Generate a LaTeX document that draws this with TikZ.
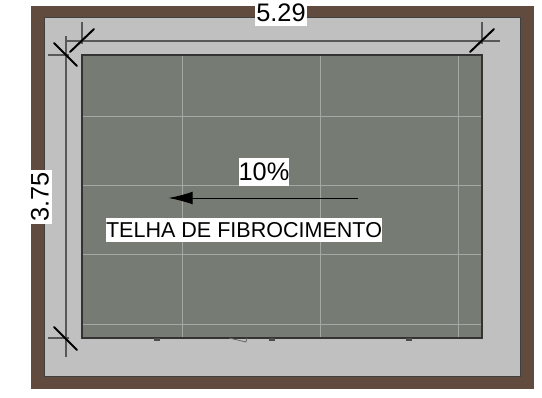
\documentclass[tikz,border=0pt]{standalone}
\usepackage{fontspec}
\setmainfont{Liberation Sans}
\usetikzlibrary{arrows.meta}
\definecolor{wallbrown}{HTML}{614B3E}
\definecolor{slabgray}{HTML}{C0C0C0}
\definecolor{roofgray}{HTML}{767B74}
\definecolor{gridgray}{HTML}{A4A7A2}
\definecolor{dimgray}{HTML}{585858}
\tikzset{
  gridline/.style={draw=gridgray,line width=0.75pt},
  dimline/.style={draw=dimgray,line width=0.8pt},
  ticktick/.style={draw=black,line width=1.5pt,line cap=round},
  whitelabel/.style={fill=white,text=black,inner sep=0pt,align=center},
}
\begin{document}
\begin{tikzpicture}[x=0.75pt,y=-0.75pt]
  \useasboundingbox (0,0) rectangle (542,397);
  % wall, slab and roof
  \fill[wallbrown] (31,6) rectangle (534,389);
  \draw[fill=slabgray,draw=black!75,line width=0.75pt] (44,17) rectangle (520,376);
  \fill[roofgray] (82,55) rectangle (482,338);
  \foreach \gx in {182,320,458}
    \draw[gridline] (\gx,55) -- (\gx,338);
  \foreach \gy in {116,185,254,324}
    \draw[gridline] (82,\gy) -- (482,\gy);
  \draw[black!80,line width=0.9pt] (82,55) rectangle (482,338);
  % bits showing under the roof edge
  \foreach \mx in {157,272,409}
    \fill[black!70] (\mx-3,338) rectangle (\mx+3,340.5);
  \draw[black!60,line width=0.6pt] (229,338) -- (246,342) -- (247,338);
  % dimensions
  \coordinate (topa) at (65,41);
  \coordinate (topb) at (500,41);
  \coordinate (lefta) at (66,36);
  \coordinate (leftb) at (66,357);
  \coordinate (exta) at (82,22);
  \coordinate (extaend) at (82,44);
  \coordinate (extb) at (482,22);
  \coordinate (extbend) at (482,44);
  \coordinate (extc) at (48,55);
  \coordinate (extcend) at (69,55);
  \coordinate (extd) at (48,338);
  \coordinate (extdend) at (69,338);
  \draw[dimline] (topa) to (topb);
  \draw[dimline] (lefta) to (leftb);
  \draw[dimline] (exta) to (extaend);
  \draw[dimline] (extb) to (extbend);
  \draw[dimline] (extc) to (extcend);
  \draw[dimline] (extd) to (extdend);
  \draw[ticktick] (70,52) -- (94,29);
  \draw[ticktick] (470,52) -- (494,29);
  \draw[ticktick] (54,43) -- (77,66);
  \draw[ticktick] (54,327) -- (77,350);
  % labels
  \node[whitelabel,minimum width=39pt,minimum height=19.5pt,font=\fontsize{19}{19}\selectfont] at (281,13) (width) {5.29};
  \node[whitelabel,rotate=90,font=\fontsize{19}{19}\selectfont,minimum width=40pt,minimum height=18pt] at (40,197) (height) {3.75};
  \node[whitelabel,minimum width=37.5pt,minimum height=21pt,font=\fontsize{19}{19}\selectfont] at (264,172) (slope) {10\%};
  \node[whitelabel,minimum width=207pt,minimum height=18pt,font=\fontsize{16.15}{16}\selectfont] at (244,230) (roofname) {TELHA DE FIBROCIMENTO};
  % slope arrow
  \coordinate (slopea) at (358,198);
  \coordinate (slopeb) at (168.5,198);
  \draw[-{Latex[length=18pt,width=9.5pt]},black,line width=0.75pt] (slopea) to (slopeb);
\end{tikzpicture}
\end{document}
